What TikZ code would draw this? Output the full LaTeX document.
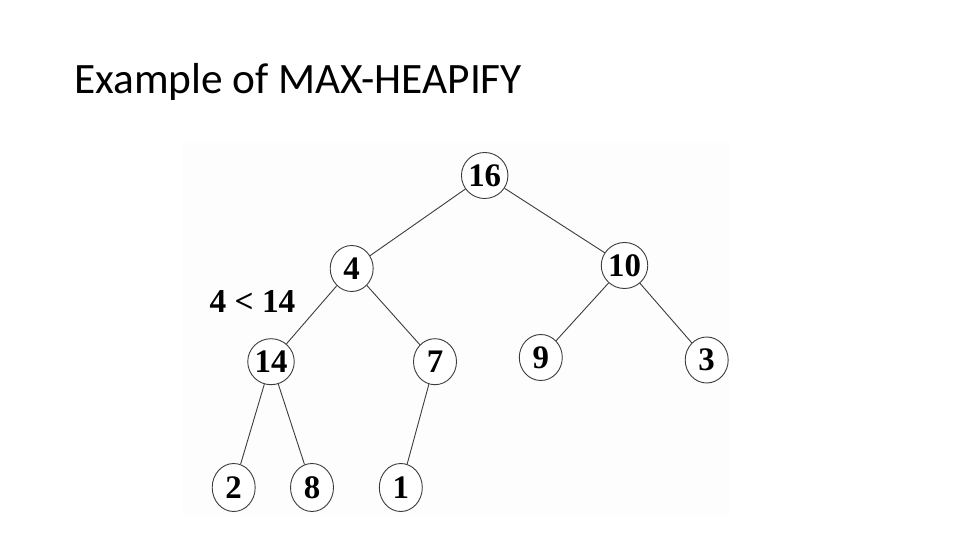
\documentclass[tikz,border=0pt]{standalone}
\usepackage{fontspec}
\setmainfont{Liberation Serif}
\newfontfamily\titlefont{Carlito}
\usetikzlibrary{shapes.geometric}
\definecolor{photobg}{RGB}{253,253,253}
\definecolor{edgecol}{RGB}{60,60,60}
\tikzset{
  heapnode/.style={ellipse, draw=edgecol, line width=0.9bp, fill=white,
    minimum width=43bp, minimum height=46bp, inner sep=0pt,
    font=\fontsize{33}{33}\selectfont\bfseries},
  leafnode/.style={heapnode, minimum height=48bp},
  heapedge/.style={draw=edgecol, line width=0.9bp},
  titletext/.style={font=\titlefont\fontsize{43.5}{43.5}\selectfont, anchor=base west, inner sep=0pt},
  cmptext/.style={font=\fontsize{33.5}{33.5}\selectfont\bfseries, anchor=base, inner sep=0pt}
}
\begin{document}
\begin{tikzpicture}[x=1bp,y=-1bp]
\useasboundingbox (0,0) rectangle (960,540);
\fill[white] (0,0) rectangle (960,540);
\fill[photobg] (183,143) rectangle (730,515);
\node[titletext] (title) at (74,94) {Example of MAX-HEAPIFY};
\node[heapnode] (n16) at (484.7,175.5) {16};
\node[heapnode] (n4) at (351.7,268.5) {4};
\node[heapnode] (n10) at (624.5,265.5) {10};
\node[heapnode] (n14) at (271,361.7) {14};
\node[heapnode] (n7) at (435,361.7) {7};
\node[heapnode] (n9) at (540.8,357.5) {9};
\node[heapnode] (n3) at (706.7,360) {3};
\node[leafnode] (n2) at (233.7,487.5) {2};
\node[leafnode] (n8) at (312,487.5) {8};
\node[leafnode] (n1) at (400.8,487.5) {1};
\node[cmptext] (cmp) at (252.5,312.3) {4 < 14};
\draw[heapedge] (n16) -- (n4);
\draw[heapedge] (n16) -- (n10);
\draw[heapedge] (n4) -- (n14);
\draw[heapedge] (n4) -- (n7);
\draw[heapedge] (n10) -- (n9);
\draw[heapedge] (n10) -- (n3);
\draw[heapedge] (n14) -- (n2);
\draw[heapedge] (n14) -- (n8);
\draw[heapedge] (n7) -- (n1);
\end{tikzpicture}
\end{document}
